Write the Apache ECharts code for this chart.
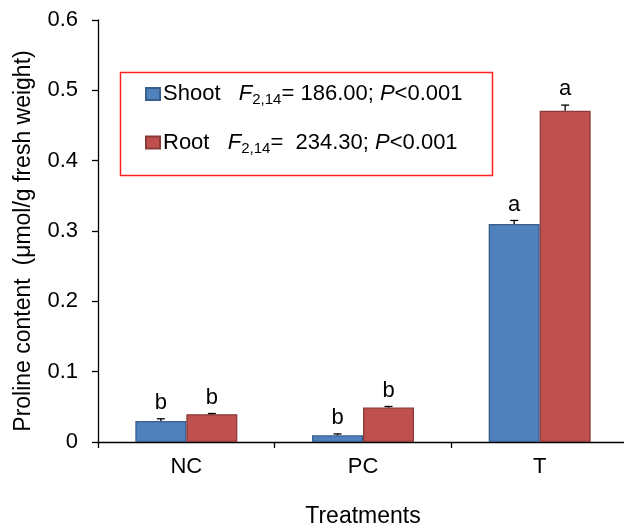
<!DOCTYPE html>
<html>
<head>
<meta charset="utf-8">
<script src="https://cdn.jsdelivr.net/npm/echarts@6/dist/echarts.min.js"></script>
<style>html,body{margin:0;padding:0;background:#fff;}#c{width:624px;height:528px;}</style>
</head>
<body>
<div id="c"></div>
<script>
const categories = ['NC', 'PC', 'T'];
const seriesNames = ['Shoot', 'Root'];
const shootValues = [0.030, 0.0095, 0.310];
const rootValues = [0.0395, 0.049, 0.471];
const shootErrors = [0.003, 0.002, 0.005];
const rootErrors = [0.001, 0.0015, 0.008];
const shootLetters = ['b', 'b', 'a'];
const rootLetters = ['b', 'b', 'a'];
const fStats = ['186.00', ' 234.30'];
const pStats = ['<0.001', '<0.001'];
const yTicks = [0, 0.1, 0.2, 0.3, 0.4, 0.5, 0.6];

const FONT = '"Liberation Sans", Arial, sans-serif';
const colors = ['#4F81BD', '#C0504D'];
const borders = ['#3A5F8E', '#8A3A38'];
const values = [shootValues, rootValues];
const errors = [shootErrors, rootErrors];
const letters = [shootLetters, rootLetters];
const BAR_W = 51;

function errSeries(k) {
  return {
    type: 'custom',
    name: seriesNames[k] + '_err',
    z: 5,
    data: categories.map((c, i) => [i, values[k][i], errors[k][i]]),
    renderItem: function (params, api) {
      const i = api.value(0);
      const v = api.value(1);
      const e = api.value(2);
      const base = api.coord([i, v]);
      const top = api.coord([i, v + e]);
      const x = base[0] + (k === 0 ? -BAR_W / 2 : BAR_W / 2);
      const style = { stroke: '#000', lineWidth: 1.3 };
      return {
        type: 'group',
        children: [
          { type: 'line', shape: { x1: x, y1: base[1], x2: x, y2: top[1] }, style: style },
          { type: 'line', shape: { x1: x - 4, y1: top[1], x2: x + 4, y2: top[1] }, style: style },
          { type: 'text', style: { x: x, y: top[1] - 16, text: letters[k][i], font: '22px ' + FONT, fill: '#000', align: 'center', verticalAlign: 'middle' } }
        ]
      };
    }
  };
}

const chart = echarts.init(document.getElementById('c'));
chart.setOption({
  animation: false,
  backgroundColor: '#fff',
  grid: { left: 98, top: 20, bottom: 86, width: 530, containLabel: false, outerBoundsMode: 'none' },
  legend: {
    data: seriesNames,
    orient: 'vertical',
    left: 145,
    top: 83,
    padding: 0,
    itemWidth: 14,
    itemHeight: 12,
    itemGap: 24,
    icon: 'rect',
    selectedMode: false,
    textStyle: {
      fontFamily: FONT, fontSize: 22, color: '#000', padding: [0, 0, 0, -2],
      rich: {
        n: { fontFamily: FONT, fontSize: 22, color: '#000' },
        f: { fontFamily: FONT, fontSize: 22, fontStyle: 'italic', color: '#000' },
        s: { fontFamily: FONT, fontSize: 15, color: '#000', verticalAlign: 'bottom', padding: [12, 0, 0, 0] },
        t: { fontFamily: FONT, fontSize: 22, color: '#000' }
      }
    },
    formatter: function (name) {
      const k = seriesNames.indexOf(name);
      return '{n|' + name + '}{t|   }{f|F}{s|2,14}{t|= ' + fStats[k] + '; }{f|P}{t|' + pStats[k] + '}';
    }
  },
  graphic: [{
    type: 'rect',
    shape: { x: 120.5, y: 72.5, width: 372, height: 103 },
    style: { fill: 'none', stroke: '#FF2020', lineWidth: 1.5 },
    z: 10
  }],
  xAxis: {
    type: 'category',
    data: categories,
    name: 'Treatments',
    nameLocation: 'middle',
    nameGap: 63,
    nameTextStyle: { fontFamily: FONT, fontSize: 23, color: '#000' },
    axisLine: { lineStyle: { color: '#000', width: 1.3 } },
    axisTick: { show: true, length: 6, lineStyle: { color: '#000', width: 1.3 } },
    axisLabel: { fontFamily: FONT, fontSize: 22, color: '#000', margin: 14 }
  },
  yAxis: {
    type: 'value',
    min: 0, max: 0.6, interval: 0.1,
    name: 'Proline content  (\u03bcmol/g fresh weight)',
    nameLocation: 'middle',
    nameGap: 63,
    nameTextStyle: { fontFamily: FONT, fontSize: 23, color: '#000', padding: [0, 20, 0, 0] },
    axisLine: { show: true, lineStyle: { color: '#000', width: 1.3 } },
    axisTick: { show: true, length: 6, lineStyle: { color: '#000', width: 1.3 } },
    splitLine: { show: false },
    axisLabel: {
      fontFamily: FONT, fontSize: 22, color: '#000', margin: 20,
      formatter: function (v) {
        const t = yTicks.find(x => Math.abs(x - v) < 1e-9);
        return t === 0 ? '0' : String(t);
      }
    }
  },
  series: [
    {
      name: seriesNames[0], type: 'bar', data: shootValues, barWidth: BAR_W, barGap: '0%',
      itemStyle: { color: colors[0], borderColor: borders[0], borderWidth: 1.3 }
    },
    {
      name: seriesNames[1], type: 'bar', data: rootValues, barWidth: BAR_W, barGap: '0%',
      itemStyle: { color: colors[1], borderColor: borders[1], borderWidth: 1.3 }
    },
    errSeries(0),
    errSeries(1)
  ]
});
</script>
</body>
</html>
